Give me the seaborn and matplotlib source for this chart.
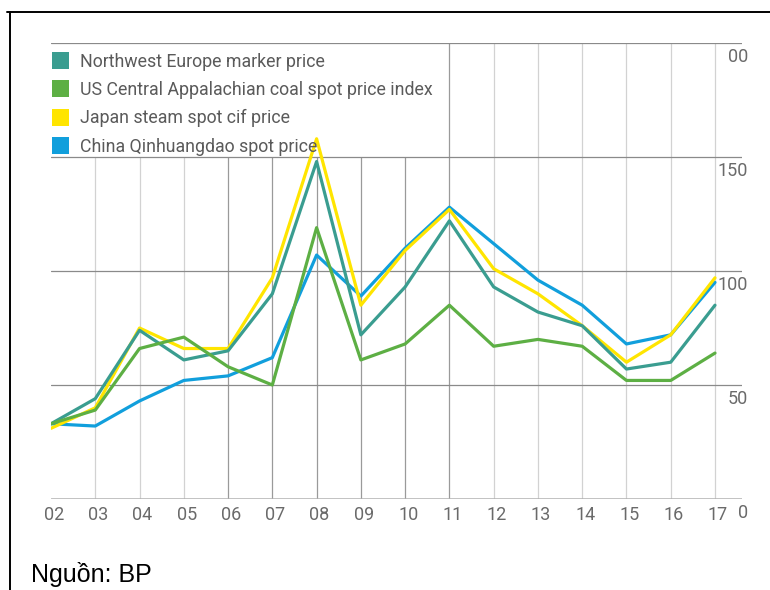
import numpy as np
import pandas as pd
import seaborn as sns
import matplotlib
matplotlib.use("Agg")
import matplotlib.pyplot as plt
from matplotlib.patches import Patch
from matplotlib.lines import Line2D
from matplotlib.transforms import ScaledTranslation

# giá than theo năm (USD/tấn), đọc từ biểu đồ BP
years = list(range(2, 18))
year_labels = ["02", "03", "04", "05", "06", "07", "08", "09",
               "10", "11", "12", "13", "14", "15", "16", "17"]
nw_europe = [33, 44, 74, 61, 65, 90, 148, 72, 93, 122, 93, 82, 76, 57, 60, 85]
us_capp = [33, 39, 66, 71, 58, 50, 119, 61, 68, 85, 67, 70, 67, 52, 52, 64]
japan = [31, 40, 75, 66, 66, 97, 158, 85, 109, 127, 101, 90, 76, 60, 72, 97]
china = [33, 32, 43, 52, 54, 62, 107, 89, 110, 128, 112, 96, 85, 68, 72, 95]

series_names = ["Northwest Europe marker price",
                "US Central Appalachian coal spot price index",
                "Japan steam spot cif price",
                "China Qinhuangdao spot price"]
colors = ["#3a9d90", "#5daf44", "#ffe500", "#119fdc"]
y_ticks = [0, 50, 100, 150, 200]
y_tick_labels = ["0", "50", "100", "150", "00"]

df = pd.DataFrame({
    "year": years * 4,
    "price": nw_europe + us_capp + japan + china,
    "series": sum([[n] * len(years) for n in series_names], []),
})

sns.set_style("white")
plt.rcParams["font.family"] = ["Roboto", "Liberation Sans", "DejaVu Sans"]

fig = plt.figure(figsize=(7.7, 5.9), dpi=100)
ax = fig.add_axes([51 / 770, 1 - 499 / 590, (742 - 51) / 770, (499 - 43) / 590])

palette = dict(zip(series_names, colors))
# thứ tự vẽ: xanh dương dưới cùng, xanh lá trên cùng
draw_order = [series_names[3], series_names[2], series_names[0], series_names[1]]
sns.lineplot(data=df, x="year", y="price", hue="series", hue_order=draw_order,
             palette=palette, linewidth=2.3, legend=False, ax=ax, zorder=3)

ax.set_xlim(2, 17.61)
ax.set_ylim(0, 200)
ax.set_xlabel("")
ax.set_ylabel("")
for s in ax.spines.values():
    s.set_visible(False)

# lưới dọc: vùng chú thích che phần trên của các năm 03-10
for yr in years[1:]:
    dark = 6 <= yr <= 11
    top = 200 if yr >= 11 else 150
    ax.vlines(yr, 0, top, color="#9a9a9a" if dark else "#d2d2d2",
              linewidth=0.9, zorder=1)
# lưới ngang
for v in y_ticks[1:]:
    ax.axhline(v, color="#8a8a8a", linewidth=0.9, zorder=2)
ax.axhline(0, color="#b0b0b0", linewidth=1.8, zorder=2)

ax.set_xticks(years)
ax.set_xticklabels(year_labels)
ax.set_yticks([])
ax.tick_params(axis="x", length=0, pad=5, labelsize=13, labelcolor="#6a6a6a")
for lbl in ax.get_xticklabels():
    lbl.set_transform(lbl.get_transform() + ScaledTranslation(3 / 100, 0, fig.dpi_scale_trans))

for v, t in zip(y_ticks, y_tick_labels):
    ax.annotate(t, xy=(1, v), xycoords=("axes fraction", "data"),
                xytext=(4.5, -3.5), textcoords="offset points",
                ha="right", va="top", fontsize=13, color="#6a6a6a",
                annotation_clip=False)

handles = [Patch(facecolor=c, edgecolor="none") for c in colors]
leg = ax.legend(handles, series_names, loc="upper left",
                bbox_to_anchor=(52 / 770, 1 - 52 / 590),
                bbox_transform=fig.transFigure, frameon=False,
                fontsize=12.8, handlelength=0.95, handleheight=1.1,
                handletextpad=0.65, labelspacing=0.55, borderpad=0,
                borderaxespad=0)
for t in leg.get_texts():
    t.set_color("#5a5a5a")

# khung viền
fig.add_artist(Line2D([7 / 770, 1], [1 - 12 / 590, 1 - 12 / 590], color="black", linewidth=1.4))
fig.add_artist(Line2D([10 / 770, 10 / 770], [0, 1 - 12 / 590], color="black", linewidth=1.4))

fig.text(31 / 770, 1 - 582 / 590, "Nguồn: BP", fontsize=18, color="black",
         family=["Liberation Sans", "DejaVu Sans"], va="baseline")

fig.savefig("out.png", dpi=100)
